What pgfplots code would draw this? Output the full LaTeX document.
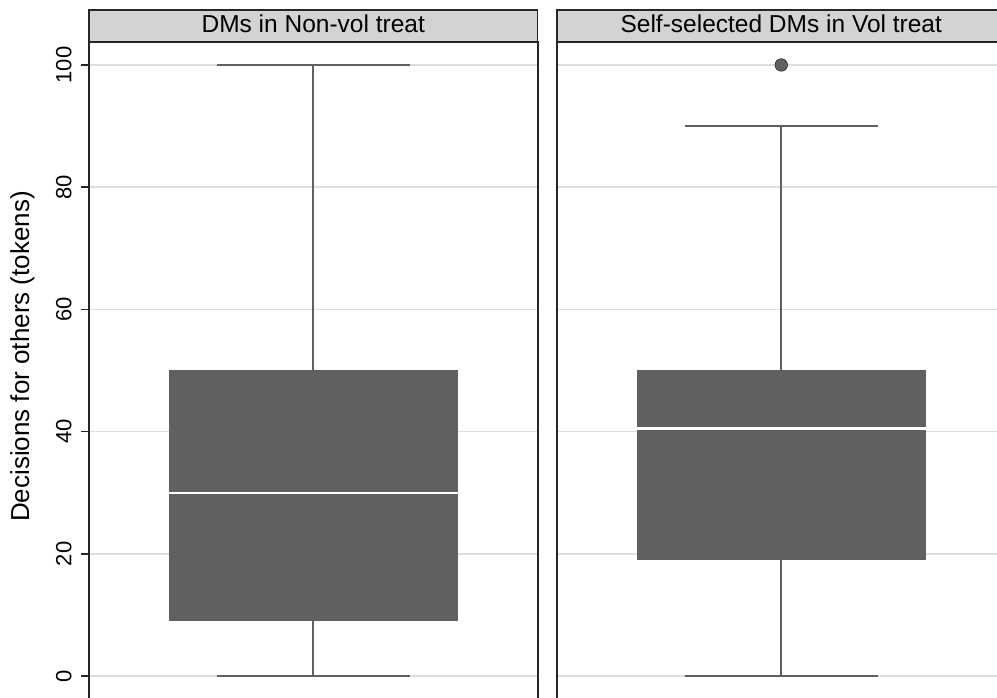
\documentclass[border=0pt]{standalone}
\usepackage{pgfplots}
\pgfplotsset{compat=1.18}
\usepgfplotslibrary{statistics}
\usepackage{fontspec}
\setmainfont{Liberation Sans}
\definecolor{boxgray}{RGB}{96,96,96}
\definecolor{gridgray}{RGB}{222,222,222}
\definecolor{headgray}{RGB}{211,211,211}
\definecolor{framegray}{RGB}{38,38,38}
\pgfplotsset{
  panel/.style={
    scale only axis, width=448.5pt, height=670.9pt,
    anchor=south west,
    xmin=0, xmax=1, ymin=-6, ymax=103.8,
    xtick=\empty,
    ytick={0,20,40,60,80,100},
    ymajorgrids,
    grid style={gridgray, line width=1.7pt},
    axis line style={framegray, line width=2pt},
    ytick pos=left, tick align=outside, major tick length=8pt,
    tick style={framegray, line width=1.5pt},
    /pgf/number format/assume math mode=true,
    yticklabel shift=6pt,
    yticklabel style={rotate=90, anchor=south, font=\fontsize{22}{22}\selectfont},
    boxplot/draw direction=y,
    boxplot/every box/.style={fill=boxgray, draw=none},
    boxplot/every median/.style={draw=white, line width=2.2pt},
    boxplot/every whisker/.style={draw=boxgray, line width=2.2pt},
  },
}
\begin{document}
\begin{tikzpicture}
% left panel
\begin{axis}[panel, at={(89pt,-15.66pt)}]
\addplot[boxplot prepared={lower whisker=0, lower quartile=9, median=30,
  upper quartile=50, upper whisker=100, draw position=0.5,
  box extend=0.645, whisker extend=0.43}, fill=boxgray, draw=none] coordinates {};
\end{axis}
% right panel
\begin{axis}[panel, at={(557pt,-15.66pt)}, yticklabels={}, major tick length=0pt]
\addplot[boxplot prepared={lower whisker=0, lower quartile=19, median=40.5,
  upper quartile=50, upper whisker=90, draw position=0.5,
  box extend=0.645, whisker extend=0.43}, fill=boxgray, draw=none] coordinates {};
\addplot[only marks, mark=*, mark size=6.3pt, mark options={fill=boxgray, draw=none}] coordinates {(0.5,100)};
\end{axis}
% headers
\draw[fill=headgray, draw=framegray, line width=1.5pt] (89pt,655.2pt) rectangle (537.5pt,687pt);
\node[anchor=base, inner sep=0pt, font=\fontsize{24.5}{24.5}\selectfont] at (313.25pt,664.7pt) {DMs in Non-vol treat};
\draw[fill=headgray, draw=framegray, line width=1.5pt] (557pt,655.2pt) rectangle (1005.5pt,687pt);
\node[anchor=base, inner sep=0pt, font=\fontsize{24.5}{24.5}\selectfont] at (781.25pt,664.7pt) {Self-selected DMs in Vol treat};
% y label
\node[rotate=90, inner sep=0pt, font=\fontsize{26}{26}\selectfont] at (22.5pt,340.5pt) {Decisions for others (tokens)};
\pgfresetboundingbox
\useasboundingbox (0,0) rectangle (997pt,697pt);
\end{tikzpicture}
\end{document}
